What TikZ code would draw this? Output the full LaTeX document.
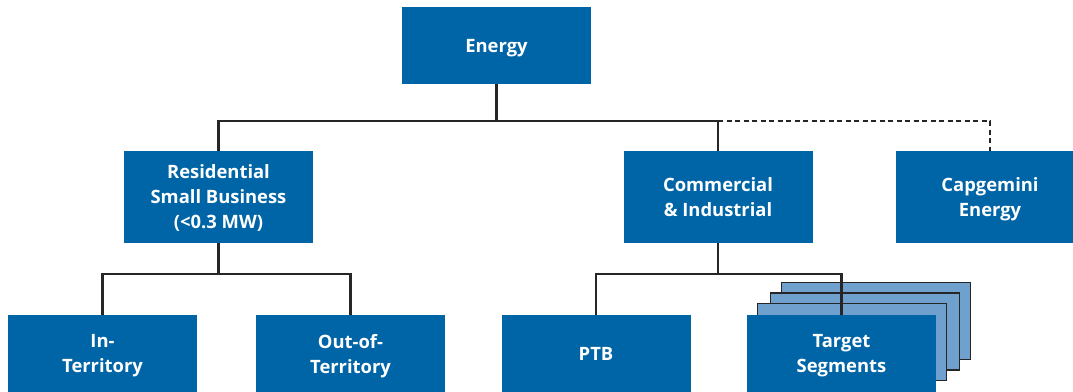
\documentclass[tikz,border=0pt]{standalone}
\usepackage{fontspec}
\setmainfont{Open Sans}
\usetikzlibrary{positioning}
\definecolor{unitblue}{RGB}{0,101,166}
\definecolor{pageblue}{RGB}{112,160,206}
\tikzstyle{unit}=[fill=unitblue,text=white,font=\bfseries\fontsize{18.4}{25}\selectfont,align=center,text depth=0pt,minimum width=189pt,inner sep=0pt]
\tikzstyle{topunit}=[unit,minimum height=77pt]
\tikzstyle{midunit}=[unit,minimum height=92pt]
\tikzstyle{page}=[draw=black!85,fill=pageblue,line width=1.3pt,minimum width=189pt,minimum height=77pt]
\tikzstyle{link} = [draw,line width=2.2pt,black!85]
\tikzstyle{dotlink} = [draw,line width=2.2pt,black!85,dash pattern=on 5pt off 3.5pt]

\begin{document}
\begin{tikzpicture}[x=1pt,y=-1pt]
    \useasboundingbox (0,0) rectangle (1073,391);
    % Stacked pages behind the target segments
    \foreach \pos/\name in {{(876,321)/page3}, {(865,331.5)/page2}, {(852,342)/page1}}
        \node[page] (\name) at \pos {};

    % First we draw the units
    \node[topunit] (energy) at (496.5,45.5) {Energy};
    \foreach \pos/\name/\text in {{(218.5,197)/res/{Residential\\Small Business\\(<0.3 MW)}}, {(718,197)/com/{Commercial\\\& Industrial}}, {(990,197)/cap/{Capgemini\\Energy}}}
        \node[midunit] (\name) at \pos {\text};
    \foreach \pos/\name/\text in {{(102.5,353.5)/inter/{In-\\Territory}}, {(350.5,353.5)/outter/{Out-of-\\Territory}}, {(596,353.5)/ptb/{PTB}}, {(841.5,353.5)/target/{Target\\Segments}}}
        \node[topunit] (\name) at \pos {\text};

    % Connect units with lines
    \coordinate (bus1) at ([yshift=-37pt]energy.south);
    \coordinate (bus2) at ([yshift=-31pt]res.south);
    \coordinate (bus3) at ([yshift=-31pt]com.south);
    \path[link] (energy.south) -- (bus1);
    \path[link] (res.north) |- (bus1) -| (com.north);
    \path[dotlink] (com.north |- bus1) -| (cap.north);
    \path[link] (res.south) -- (bus2);
    \path[link] (inter.north) |- (bus2) -| (outter.north);
    \path[link] (com.south) -- (bus3);
    \path[link] (ptb.north) |- (bus3) -| (target.north);
\end{tikzpicture}
\end{document}
